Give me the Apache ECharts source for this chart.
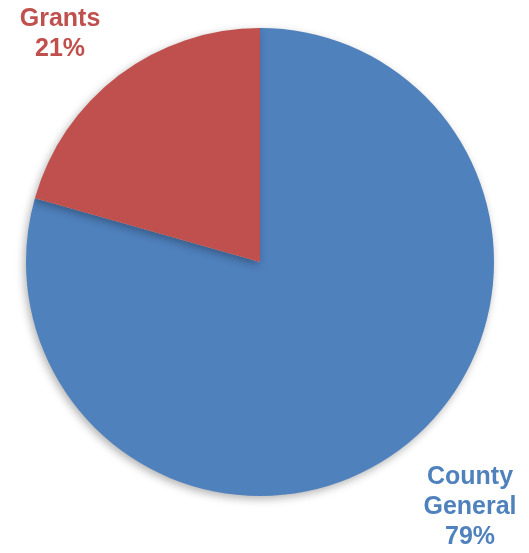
<!DOCTYPE html>
<html>
<head>
<meta charset="utf-8">
<script src="https://cdn.jsdelivr.net/npm/echarts@6/dist/echarts.min.js"></script>
<style>html,body{margin:0;padding:0;background:#fff;}#c{width:529px;height:553px;}</style>
</head>
<body>
<div id="c"></div>
<script>
const categories = ['County General', 'Grants'];
const values = [79.4, 20.6];
const colors = ['#4F81BD', '#C0504D'];

const chart = echarts.init(document.getElementById('c'), null, {renderer: 'canvas'});
const labelPos = {
  'County General': {x: 470, y: 507},
  'Grants': {x: 60, y: 34}
};
chart.setOption({
  animation: false,
  backgroundColor: '#ffffff',
  series: [{
    type: 'pie',
    center: [260, 262],
    radius: [0, 234],
    startAngle: 90,
    clockwise: true,
    data: categories.map((c, i) => ({
      name: c,
      value: values[i],
      itemStyle: {color: colors[i]},
      label: {color: colors[i]}
    })),
    itemStyle: {
      shadowBlur: 8,
      shadowColor: 'rgba(0,0,0,0.3)',
      shadowOffsetX: -2,
      shadowOffsetY: 3
    },
    label: {
      show: true,
      position: 'outside',
      formatter: p => p.name.replace(' ', '\n') + '\n' + Math.round(p.percent) + '%',
      fontFamily: 'Liberation Sans, Arial, sans-serif',
      fontWeight: 'bold',
      fontSize: 25,
      lineHeight: 30,
      align: 'center',
      overflow: 'none',
      width: 200
    },
    labelLine: {show: false},
    labelLayout: function (params) {
      const name = categories[params.dataIndex];
      const p = labelPos[name];
      return {x: p.x, y: p.y, align: 'center', verticalAlign: 'middle'};
    },
    emphasis: {disabled: true}
  }]
});
</script>
</body>
</html>
